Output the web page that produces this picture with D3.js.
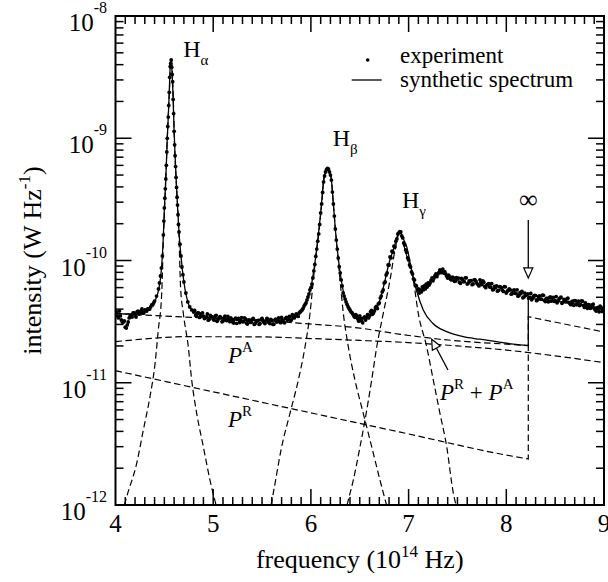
<!DOCTYPE html>
<html><head><meta charset="utf-8">
<script src="https://cdn.jsdelivr.net/npm/d3@7/dist/d3.min.js"></script>
<style>
html,body{margin:0;padding:0;background:#fff;}
</style></head><body>
<svg id="chart" width="608" height="582" style="display:block;font-family:'Liberation Serif','Times New Roman',Tinos,'DejaVu Serif',serif"></svg>
<script>
// Intensities below are in units of 1e-12 W/Hz; frequencies in 1e14 Hz.
const UNIT = 1e-12;
const xTickValues = [4, 5, 6, 7, 8, 9];
const yTickExponents = [-12, -11, -10, -9, -8];
const seriesLimit = 8.225;

// measured spectrum [frequency, intensity]
const experiment = [
 [4.00,37.2],[4.02,35.2],[4.04,38.6],[4.06,32.6],[4.08,31.4],[4.10,28.5],[4.12,29.7],[4.14,33.9],[4.16,35.2],[4.18,37.2],
 [4.20,35.8],[4.22,37.9],[4.24,36.5],[4.26,38.6],[4.28,37.2],[4.30,39.4],[4.32,38.6],[4.34,40.1],[4.36,41.7],[4.38,43.3],
 [4.01,37.9],[4.03,33.9],[4.05,35.2],[4.07,31.4],[4.09,32.0],[4.11,28.0],[4.13,31.4],[4.15,35.2],[4.17,34.5],[4.19,37.2],
 [4.21,34.5],[4.23,38.6],[4.25,36.8],[4.27,40.1],[4.29,37.2],[4.31,39.0],[4.33,40.1],[4.35,40.1],[4.37,43.3],[4.39,44.9],
 [4.40,46.6],[4.42,51.2],[4.44,58.5],[4.45,65.5],[4.46,74.7],[4.47,86.8],[4.48,109],[4.49,162],[4.495,210],[4.50,269],
 [4.505,323],[4.51,386],[4.515,464],[4.52,600],[4.525,773],[4.53,999],[4.535,1248],[4.54,1489],[4.545,1857],[4.55,2376],
 [4.555,3152],[4.56,3856],[4.565,4088],[4.57,4366],[4.575,3813],[4.58,3323],[4.585,2901],[4.59,2079],[4.595,1591],[4.60,1140],
 [4.605,884],[4.61,720],[4.615,587],[4.62,478],[4.625,396],[4.63,329],[4.635,284],[4.64,237],[4.645,197],[4.65,171],
 [4.66,136],[4.67,109],[4.68,88.5],[4.69,76.5],[4.70,66.7],[4.72,54.2],[4.74,45.8],[4.76,41.7],[4.78,39.4],[4.80,37.9],
 [4.82,35.8],[4.84,37.2],[4.86,34.2],[4.88,36.8],[4.90,35.0],[4.92,34.0],[4.94,36.5],[4.96,33.0],[4.98,34.8],[5.00,33.2],
 [5.02,35.1],[5.04,31.8],[5.06,34.0],[5.08,34.0],[5.10,32.0],[5.12,35.1],[5.14,32.3],[5.16,33.0],[5.18,34.0],[5.20,31.4],
 [5.22,33.2],[5.24,30.6],[5.26,33.6],[5.28,32.3],[5.30,31.6],[5.32,34.0],[5.34,30.8],[5.36,32.5],[5.38,31.2],[5.40,32.9],
 [5.42,30.0],[5.44,32.0],[5.46,32.3],[5.48,30.5],[5.50,33.6],[5.52,31.1],[5.54,32.0],[5.56,32.9],[5.58,30.5],[5.60,32.3],
 [5.62,30.1],[5.64,33.2],[5.66,32.0],[5.68,31.6],[5.70,34.2],[5.72,31.4],[5.74,33.6],[5.76,32.6],[5.78,34.9],[5.80,32.6],
 [5.82,34.2],[5.84,35.5],[5.86,35.2],[5.88,37.2],
 [4.81,39.0],[4.83,34.9],[4.85,37.2],[4.87,35.2],[4.89,37.2],[4.91,33.5],[4.93,34.5],[4.95,32.5],[4.97,35.5],[4.99,34.6],
 [5.01,32.5],[5.03,35.6],[5.05,32.9],[5.07,34.7],[5.09,31.5],[5.11,33.8],[5.13,32.4],[5.15,34.9],[5.17,31.6],[5.19,32.9],
 [5.21,30.8],[5.23,33.8],[5.25,33.1],[5.27,31.1],[5.29,34.1],[5.31,31.6],[5.33,33.3],[5.35,30.2],[5.37,32.5],[5.39,31.2],
 [5.41,33.6],[5.43,30.5],[5.45,32.0],[5.47,30.0],[5.49,32.9],[5.51,32.3],[5.53,30.5],[5.55,33.6],[5.57,31.1],[5.59,32.9],
 [5.61,30.1],[5.63,32.5],[5.65,31.4],[5.67,34.0],[5.69,31.0],[5.71,32.4],[5.73,30.9],[5.75,34.2],[5.77,34.0],[5.79,32.4],
 [5.81,36.0],[5.83,33.9],[5.85,36.5],[5.87,34.9],[5.89,37.9],
 [5.90,38.6],[5.91,39.4],[5.92,40.5],[5.93,42.4],[5.94,43.7],[5.95,44.9],
 [5.96,47.5],[5.97,50.3],[5.98,53.2],[5.99,57.4],[6.00,60.1],[6.01,64.2],[6.02,71.9],[6.03,82.1],[6.04,92.8],[6.05,108],
 [6.06,124],[6.07,144],[6.08,165],[6.09,197],[6.10,245],[6.11,290],[6.12,360],[6.13,439],[6.14,491],[6.15,530],
 [6.16,555],[6.17,568],[6.18,560],[6.19,530],[6.20,500],[6.21,455],[6.22,363],[6.23,290],[6.24,231],[6.25,181],
 [6.26,147],[6.27,124],[6.28,105],[6.29,89.0],[6.30,79.0],[6.31,69.3],[6.32,61.9],[6.33,54.2],[6.34,51.2],[6.35,48.4],
 [6.36,45.8],[6.37,43.7],[6.38,42.0],[6.39,40.5],[6.40,39.4],[6.42,37.5],[6.44,35.2],[6.46,36.1],[6.48,33.2],[6.50,35.2],
 [6.52,32.0],[6.54,33.9],[6.56,32.6],[6.58,36.1],[6.60,35.2],[6.62,39.0],[6.64,37.2],[6.66,40.9],[6.68,40.5],[6.69,44.1],
 [6.41,38.0],[6.43,36.4],[6.45,34.3],[6.47,35.0],[6.49,31.9],[6.51,33.6],[6.53,30.9],[6.55,34.5],[6.57,34.3],[6.59,33.9],
 [6.61,37.9],[6.63,36.3],[6.65,38.6],[6.67,42.2],
 [6.70,44.9],[6.71,49.3],[6.72,51.2],[6.73,55.3],[6.74,57.4],[6.75,65.5],[6.76,66.7],[6.77,76.1],[6.78,79.0],[6.79,91.9],
 [6.80,91.9],[6.81,107],[6.82,105],[6.83,119],[6.84,117],[6.85,131],[6.86,129],[6.87,144],[6.88,150],[6.89,165],
 [6.90,168],[6.91,172],[6.92,171],[6.93,159],[6.94,153],[6.95,139],[6.96,134],[6.97,122],[6.98,117],[6.99,105],
 [7.00,101],[7.01,91.9],[7.02,88.5],[7.03,80.5],[7.04,77.6],[7.05,70.6],[7.06,69.3],[7.07,63.0],[7.08,61.9],[7.09,57.4],
 [7.10,58.5],[7.11,54.2],[7.12,57.4],[7.13,55.3],[7.14,60.7],[7.15,57.4],[7.16,61.9],[7.17,58.5],[7.18,64.2],[7.19,60.7],
 [7.20,65.5],[7.22,65.5],[7.24,71.9],[7.26,71.9],[7.28,77.6],[7.30,77.6],[7.32,83.6],[7.34,82.1],[7.35,85.1],[7.36,79.0],
 [7.21,63.0],[7.23,69.0],[7.25,68.3],[7.27,75.0],[7.29,73.7],[7.31,80.0],[7.33,79.5],[7.37,81.0],[7.39,74.5],[7.41,76.0],
 [7.43,70.2],[7.45,73.1],[7.47,67.5],[7.49,72.4],
 [7.38,77.6],[7.40,71.9],[7.42,73.3],[7.44,69.3],[7.46,71.9],[7.48,68.0],[7.50,70.6],[7.52,66.4],[7.54,71.4],[7.56,67.2],
 [7.58,72.2],[7.60,64.2],[7.62,68.2],[7.64,68.5],[7.66,64.3],[7.68,69.5],[7.70,64.8],[7.72,61.9],[7.74,66.1],[7.76,68.0],
 [7.78,61.3],[7.80,63.0],[7.82,64.7],[7.84,60.5],[7.86,57.6],[7.88,61.4],[7.90,61.9],[7.92,57.0],[7.94,60.9],[7.96,57.2],
 [7.98,61.2],[8.00,54.2],[8.02,56.9],[8.04,57.4],[8.06,53.7],[8.08,57.4],[8.10,53.7],[8.12,51.1],[8.14,54.6],[8.16,56.0],
 [8.18,50.4],[8.20,51.7],[8.22,53.3],[8.24,49.9],[8.26,47.7],[8.28,51.1],[8.30,51.7],[8.32,47.7],[8.34,51.3],[8.36,48.3],
 [8.38,51.9],[8.40,46.2],[8.42,49.0],[8.44,49.4],[8.46,46.5],[8.48,49.9],[8.50,47.0],[8.52,45.1],[8.54,48.5],[8.56,50.1],
 [8.58,45.5],[8.60,47.0],[8.62,48.5],[8.64,45.5],[8.66,43.5],[8.68,46.5],[8.70,47.0],[8.72,43.4],[8.74,46.4],[8.76,43.5],
 [8.78,46.5],[8.80,41.3],[8.82,43.2],[8.84,43.5],[8.86,40.7],[8.88,43.4],[8.90,40.5],[8.92,38.6],[8.94,41.3],[8.96,42.4],
 [8.98,38.3],[9.00,39.4],
 [7.51,71.8],[7.53,65.1],[7.55,69.9],[7.57,67.1],[7.59,72.1],[7.61,65.3],[7.63,67.9],[7.65,63.4],[7.67,69.3],[7.69,67.6],
 [7.71,63.5],[7.73,69.5],[7.75,63.4],[7.77,66.4],[7.79,59.9],[7.81,63.9],[7.83,60.8],[7.85,64.8],[7.87,58.0],[7.89,59.9],
 [7.91,56.1],[7.93,61.2],[7.95,59.6],[7.97,55.9],[7.99,60.9],[8.01,56.1],[8.03,58.5],[8.05,53.0],[8.07,56.7],[8.09,54.0],
 [8.11,57.6],[8.13,51.8],[8.15,53.7],[8.17,49.6],[8.19,54.0],[8.21,52.4],[8.23,49.2],[8.25,53.7],[8.27,49.4],[8.29,51.9],
 [8.31,46.9],[8.33,50.5],[8.35,48.4],[8.37,52.0],[8.39,47.1],[8.41,49.0],[8.43,45.9],[8.45,50.3],[8.47,49.1],[8.49,46.3],
 [8.51,50.7],[8.53,46.7],[8.55,49.3],[8.57,44.7],[8.59,48.0],[8.61,46.0],[8.63,49.2],[8.65,44.5],[8.67,46.1],[8.69,43.0],
 [8.71,46.8],[8.73,45.6],[8.75,42.8],[8.77,46.7],[8.79,43.0],[8.81,45.0],[8.83,40.7],[8.85,43.3],[8.87,41.3],[8.89,44.0],
 [8.91,39.5],[8.93,40.8],[8.95,38.1],[8.97,41.5],[8.99,40.3]
];

// model spectrum
const synthetic = [
 [4.00,37.0],[4.10,36.5],[4.20,37.0],[4.30,38.6],[4.36,41.5],[4.40,46.0],[4.44,57.0],[4.47,85],[4.49,160],[4.50,265],
 [4.51,386],[4.52,600],[4.53,999],[4.54,1489],[4.55,2376],[4.56,3856],[4.57,4366],[4.58,3323],[4.59,2079],[4.60,1140],
 [4.61,720],[4.62,478],[4.63,329],[4.64,237],[4.65,171],[4.67,109],[4.70,66.7],[4.75,43.5],[4.80,38.0],[4.90,35.0],
 [5.00,33.9],[5.20,32.8],[5.40,32.2],[5.60,32.2],[5.70,32.8],[5.80,34.5],[5.90,38.6],[5.95,44.9],[6.00,60.1],[6.05,108],
 [6.10,245],[6.13,439],[6.15,530],[6.17,568],[6.19,530],[6.21,455],[6.23,290],[6.25,181],[6.28,105],[6.30,79.0],
 [6.35,48.4],[6.40,39.4],[6.45,35.6],[6.50,33.9],[6.55,33.5],[6.60,36.0],[6.65,39.0],[6.70,45.8],[6.75,64.2],[6.80,95.4],
 [6.85,127],[6.89,162],[6.91,172],[6.93,162],[6.95,148],[6.98,130],[7.03,84],[7.08,57.4],[7.15,39.4],[7.25,30.5],
 [7.39,26.2],[7.56,23.8],[7.73,22.7],[7.90,21.7],[8.07,20.7],[8.225,20.1],[8.225,49.3],[8.50,46.5],[9.00,40.5]
];

// continuum components
const pA = [[4.0,21.7],[4.3,22.8],[4.7,23.8],[5.5,23.7],[6.0,23.0],[6.5,22.2],[7.0,21.3],[7.5,20.0],[8.0,18.5],[8.5,16.6],[9.0,14.6]];
const pR = [[4.0,12.55],[5.0,8.43],[6.0,5.67],[7.0,3.81],[8.0,2.56],[8.225,2.38],[8.225,20.1]];
const pRA = [[4.0,36.9],[4.7,34.5],[5.5,32.6],[5.9,30.6],[6.5,28.0],[6.9,25.0],[7.3,22.8],[7.7,21.4],[8.0,20.7],[8.225,20.1],[8.225,34.7],[9.0,26.0]];

// Balmer line profiles
const lineHa = [[4.092,1.0],[4.115,1.17],[4.217,2.19],[4.285,4.11],[4.353,7.69],[4.405,14.4],[4.438,27.0],[4.473,53.9],[4.49,147],[4.514,439],[4.53,999],[4.548,2079],[4.57,4366],[4.592,2079],[4.602,999],[4.622,439],[4.647,183],[4.666,61],[4.694,37.0],[4.745,19.7],[4.780,10.5],[4.831,5.62],[4.899,3.00],[4.967,1.60],[5.029,1.0]];
const lineHb = [[5.592,1.0],[5.615,1.25],[5.701,3.00],[5.786,5.62],[5.871,10.5],[5.940,19.7],[5.991,37.0],[6.025,69.3],[6.052,111],[6.076,157],[6.111,294],[6.134,485],[6.172,568],[6.206,485],[6.229,294],[6.257,157],[6.277,105],[6.298,69.3],[6.332,37.0],[6.383,19.7],[6.451,10.5],[6.536,5.62],[6.622,3.00],[6.707,1.60],[6.774,1.0]];
const lineHg = [[6.370,1.0],[6.383,1.10],[6.434,1.60],[6.503,3.00],[6.554,4.96],[6.622,10.5],[6.674,19.7],[6.741,37.0],[6.810,69.3],[6.861,122],[6.912,172],[6.963,122],[7.048,69.3],[7.099,37.0],[7.185,19.7],[7.253,10.5],[7.321,5.62],[7.390,3.00],[7.458,1.25],[7.485,1.0]];

const FONT = "'Liberation Serif','Times New Roman',Tinos,'DejaVu Serif',serif";
const svg = d3.select("#chart").attr("font-family", FONT);
const M = {left: 115.5, right: 604, top: 16, bottom: 505};
const x = d3.scaleLinear().domain([4, 9]).range([M.left, M.right]);
const y = d3.scaleLog().domain([1e-12, 1e-8]).range([M.bottom, M.top]);
const X = d => x(d[0]);
const Y = d => y(d[1] * UNIT);

svg.append("defs").append("clipPath").attr("id", "plotArea")
  .append("rect").attr("x", M.left).attr("y", M.top)
  .attr("width", M.right - M.left).attr("height", M.bottom - M.top);
const plot = svg.append("g").attr("clip-path", "url(#plotArea)");

// smooth runs joined by straight vertical steps where a frequency repeats
function stepPath(data) {
  const gen = d3.line().x(X).y(Y).curve(d3.curveMonotoneX);
  const runs = [];
  let cur = [data[0]];
  for (let i = 1; i < data.length; i++) {
    if (data[i][0] === data[i - 1][0]) { runs.push(cur); cur = [data[i]]; }
    else cur.push(data[i]);
  }
  runs.push(cur);
  return runs.map((r, i) => {
    const p = r.length > 1 ? gen(r) : `M${X(r[0])},${Y(r[0])}`;
    return i ? p.replace(/^M/, "L") : p;
  }).join("");
}

const dashed = [pA, pR, pRA, lineHa, lineHb, lineHg];
plot.selectAll("path.dash").data(dashed).join("path")
  .attr("class", "dash").attr("d", stepPath)
  .attr("fill", "none").attr("stroke", "#000").attr("stroke-width", 1.2)
  .attr("stroke-dasharray", "6.5,3.5");

plot.append("path").attr("d", stepPath(synthetic))
  .attr("fill", "none").attr("stroke", "#000").attr("stroke-width", 1.3);

plot.selectAll("circle.exp").data(experiment).join("circle")
  .attr("class", "exp").attr("cx", X).attr("cy", Y).attr("r", 1.9).attr("fill", "#000");

// frame and ticks
const axes = svg.append("g").attr("stroke", "#000");
axes.append("rect").attr("x", M.left).attr("y", M.top)
  .attr("width", M.right - M.left).attr("height", M.bottom - M.top)
  .attr("fill", "none").attr("stroke-width", 2);

const xMinor = d3.range(41, 90).map(i => i / 10).filter(v => !xTickValues.includes(v));
const yMajor = yTickExponents.map(e => Math.pow(10, e));
const yMinor = [];
yTickExponents.slice(0, -1).forEach(e => { for (let m = 2; m <= 9; m++) yMinor.push(m * Math.pow(10, e)); });

function xTicks(vals, len) {
  vals.forEach(v => {
    const px = x(v);
    axes.append("line").attr("x1", px).attr("x2", px).attr("y1", M.bottom).attr("y2", M.bottom - len).attr("stroke-width", 1.5);
    axes.append("line").attr("x1", px).attr("x2", px).attr("y1", M.top).attr("y2", M.top + len).attr("stroke-width", 1.5);
  });
}
function yTicks(vals, len) {
  vals.forEach(v => {
    const py = y(v);
    axes.append("line").attr("x1", M.left).attr("x2", M.left + len).attr("y1", py).attr("y2", py).attr("stroke-width", 1.5);
    axes.append("line").attr("x1", M.right).attr("x2", M.right - len).attr("y1", py).attr("y2", py).attr("stroke-width", 1.5);
  });
}
xTicks(xTickValues.slice(1, -1), 16);
xTicks(xMinor, 8);
yTicks(yMajor.slice(1, -1), 16);
yTicks(yMinor, 8);

// tick labels
const labels = svg.append("g").attr("fill", "#000");
xTickValues.forEach(v => {
  labels.append("text").attr("x", x(v)).attr("y", 532).attr("text-anchor", "middle")
    .attr("font-size", 25).text(v);
});
yTickExponents.forEach(e => {
  const t = labels.append("text").attr("x", 107).attr("y", y(Math.pow(10, e)) + 15)
    .attr("text-anchor", "end").attr("font-size", 25);
  t.append("tspan").text("10");
  t.append("tspan").attr("dy", -18).attr("font-size", 16).text(e);
});

// axis titles
const xt = labels.append("text").attr("x", (M.left + M.right) / 2).attr("y", 568)
  .attr("text-anchor", "middle").attr("font-size", 26);
xt.append("tspan").text("frequency (10");
xt.append("tspan").attr("dy", -11).attr("font-size", 17).text("14");
xt.append("tspan").attr("dy", 11).text(" Hz)");

const yt = labels.append("text").attr("transform", `translate(41,${(M.top + M.bottom) / 2}) rotate(-90)`)
  .attr("text-anchor", "middle").attr("font-size", 26);
yt.append("tspan").text("intensity (W Hz");
yt.append("tspan").attr("dy", -11).attr("font-size", 17).text("-1");
yt.append("tspan").attr("dy", 11).text(")");

// line names
function lineName(xp, yp, greek) {
  const t = labels.append("text").attr("x", xp).attr("y", yp).attr("font-size", 24);
  t.append("tspan").text("H");
  t.append("tspan").attr("dy", 8).attr("font-size", 15).text(greek);
}
lineName(x(4.57) + 12, 57, "α");
lineName(x(6.172) + 5, 146, "β");
lineName(x(6.912) + 2, 208, "γ");

// component labels
function pLabel(t, sup) {
  t.append("tspan").attr("font-style", "italic").text("P");
  t.append("tspan").attr("dy", -11).attr("font-size", 15).text(sup);
}
let t = labels.append("text").attr("x", 228).attr("y", 363).attr("font-size", 23);
pLabel(t, "A");
t = labels.append("text").attr("x", 228).attr("y", 427).attr("font-size", 23);
pLabel(t, "R");
t = labels.append("text").attr("x", 440).attr("y", 400).attr("font-size", 23);
pLabel(t, "R");
t.append("tspan").attr("dy", 11).text(" + ");
pLabel(t, "A");

// arrows with open heads
function arrow(x1, y1, x2, y2) {
  const dx = x2 - x1, dy = y2 - y1, L = Math.hypot(dx, dy);
  const ux = dx / L, uy = dy / L, hl = 10, hw = 4.5;
  const bx = x2 - ux * hl, by = y2 - uy * hl;
  svg.append("line").attr("x1", x1).attr("y1", y1).attr("x2", bx).attr("y2", by)
    .attr("stroke", "#000").attr("stroke-width", 1.3);
  svg.append("path")
    .attr("d", `M${x2},${y2}L${bx - uy * hw},${by + ux * hw}L${bx + uy * hw},${by - ux * hw}Z`)
    .attr("fill", "#fff").attr("stroke", "#000").attr("stroke-width", 1.2);
}
arrow(x(seriesLimit), y(214 * UNIT), x(seriesLimit), y(72 * UNIT));
arrow(x(7.403), y(12.7 * UNIT), x(7.236), y(22.7 * UNIT));
labels.append("text").attr("x", x(seriesLimit)).attr("y", 208).attr("text-anchor", "middle")
  .attr("font-size", 26).text("∞");

// legend
labels.append("circle").attr("cx", 367.7).attr("cy", 60).attr("r", 1.8);
labels.append("text").attr("x", 400).attr("y", 63).attr("font-size", 23).text("experiment");
svg.append("line").attr("x1", 351.7).attr("x2", 381.7).attr("y1", 80).attr("y2", 80)
  .attr("stroke", "#000").attr("stroke-width", 1.3);
labels.append("text").attr("x", 400).attr("y", 87).attr("font-size", 23).text("synthetic spectrum");
</script>
</body></html>
